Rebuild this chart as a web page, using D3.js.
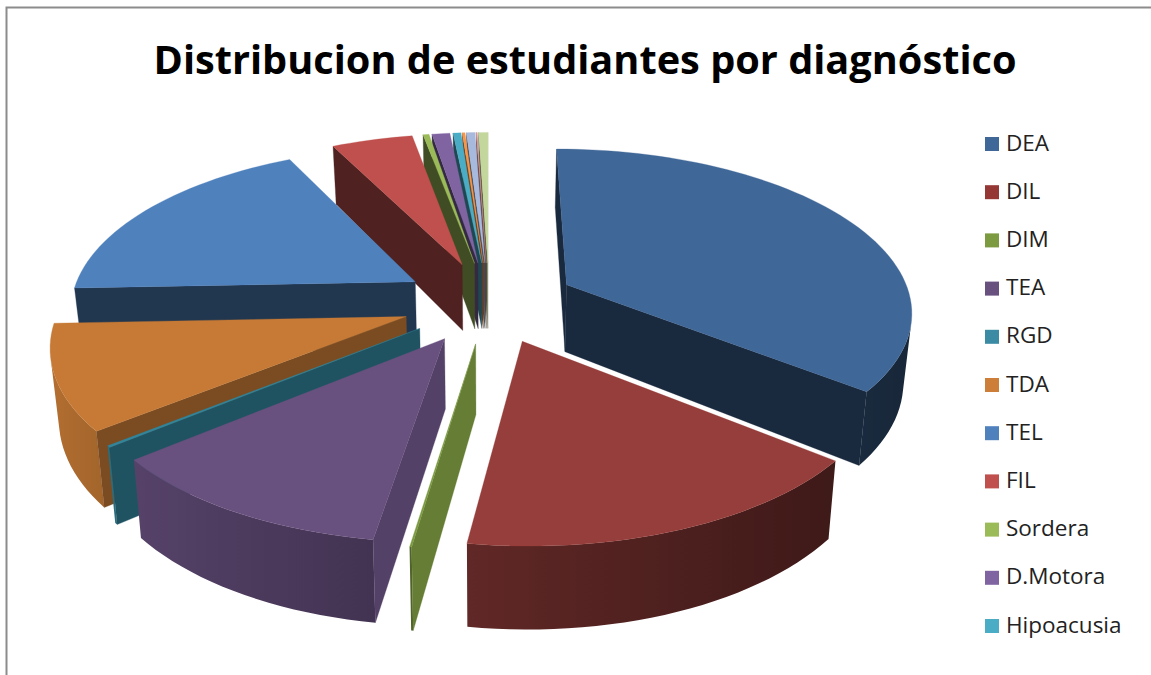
<!DOCTYPE html>
<html><head><meta charset="utf-8">
<script src="https://cdn.jsdelivr.net/npm/d3@7"></script>
<style>html,body{margin:0;background:#fff}svg{display:block}</style></head>
<body><svg id="c" width="1151" height="675"></svg>
<script>
const titleText="Distribucion de estudiantes por diagnóstico";
const categories=["DEA","DIL","DIM","TEA","RGD","TDA","TEL","FIL","Sordera","D.Motora","Hipoacusia","Otro 12","Otro 13","Otro 14","Otro 15"];
const values=[35.73,16.59,0.08,11.64,0.16,10.17,18.23,4.47,0.33,0.98,0.43,0.15,0.47,0.06,0.51];
const legendItems=categories.slice(0,11);
const colors=["#3f6797","#963e3b","#7c9a40","#68507f","#31859c","#c67a35","#4f81bd","#c0504d","#9bbb59","#8064a2","#4bacc6","#f79646","#a7b9dc","#d99694","#c3d69b"];
const legendColors=["#3f6797","#953735","#7c9a40","#68507f","#3a8ba3","#cd7f3a","#4f81bd","#c0504d","#9bbb59","#8064a2","#4bacc6"];

const view={cx:489.1,cy:302.1,Rx:345.2,Ry:160.9,persp:.15,explode:.253,depth:68,converge:.98};
const scaleX=d3.scaleLinear().domain([-1,1]).range([-view.Rx,view.Rx]);
const scaleY=d3.scaleLinear().domain([-1,1]).range([view.Ry,-view.Ry]);
const wallShade=d3.scaleLinear().domain([90,150,180,270]).range([.85,.58,.41,.41]).clamp(true);
const outerShade=a=>.65+.27*Math.cos(a-280*Math.PI/180);
function project(th,r,mid,low){
  const U=view.explode*Math.sin(mid)+r*Math.sin(th),V=view.explode*Math.cos(mid)+r*Math.cos(th),s=1/(1+view.persp*V);
  return [view.cx+scaleX(U)*s*(low?view.converge:1),view.cy+scaleY(V)*s+(low?view.depth*s:0)];
}
const shade=(c,k)=>{const q=d3.rgb(c);return d3.rgb(q.r*k,q.g*k,q.b*k).formatHex();};
const closed=a=>d3.line()(a)+"Z";
const deg=a=>((a*180/Math.PI)%360+360)%360;

const svg=d3.select("#c");
const defs=svg.append("defs");
svg.append("path").attr("d","M6.5,675V7.5H1151").attr("fill","none").attr("stroke","#8c8c8c").attr("stroke-width",2);
svg.append("text").attr("x",585).attr("y",73.5).attr("text-anchor","middle").attr("font-family","Open Sans").attr("font-weight",700).attr("font-size",39.7).attr("fill","#000").text(titleText);

const arcs=d3.pie().sort(null).startAngle(0).endAngle(2*Math.PI)(values)
  .map((d,i)=>({i,a0:d.startAngle,a1:d.endAngle,mid:(d.startAngle+d.endAngle)/2}))
  .sort((p,q)=>Math.cos(q.mid)-Math.cos(p.mid));
const g=svg.append("g");
arcs.forEach(d=>{
  const c=colors[d.i],n=Math.max(2,Math.ceil((d.a1-d.a0)/(2*Math.PI/180)));
  const t=d3.range(n+1).map(k=>d.a0+(d.a1-d.a0)*k/n);
  const apexT=project(0,0,d.mid,false),apexB=project(0,0,d.mid,true);
  // outer rim: only the segments that face the viewer
  const vis=d3.range(n).filter(k=>d3.polygonArea([project(t[k],1,d.mid,false),project(t[k+1],1,d.mid,false),project(t[k+1],1,d.mid,true),project(t[k],1,d.mid,true)])>0);
  if(vis.length){
    const ts=[t[vis[0]]].concat(vis.map(k=>t[k+1]));
    const tops=ts.map(a=>project(a,1,d.mid,false)),lows=ts.map(a=>project(a,1,d.mid,true));
    const xa=lows[0][0],xb=lows[lows.length-1][0],id="rim"+d.i;
    const lg=defs.append("linearGradient").attr("id",id).attr("gradientUnits","userSpaceOnUse").attr("x1",xa).attr("x2",xb===xa?xa+1:xb).attr("y1",0).attr("y2",0);
    ts.forEach((a,k)=>lg.append("stop").attr("offset",ts.length>1?(lows[k][0]-xa)/((xb-xa)||1):0).attr("stop-color",shade(c,outerShade(a))));
    g.append("path").attr("d",closed(tops.concat(lows.slice().reverse()))).attr("fill",`url(#${id})`);
  }
  // cut faces: culled when they face away
  const startQ=[apexT,project(d.a0,1,d.mid,false),project(d.a0,1,d.mid,true),apexB];
  const endQ=[apexT,project(d.a1,1,d.mid,false),project(d.a1,1,d.mid,true),apexB];
  if(d3.polygonArea(startQ)>0){
    const col=shade(c,wallShade(deg(d.a0-Math.PI/2)));
    g.append("path").attr("d",closed(startQ)).attr("fill",col).attr("stroke",col).attr("stroke-width",.3);
  }
  if(d3.polygonArea(endQ)<0){
    const col=shade(c,wallShade(deg(d.a1+Math.PI/2)));
    g.append("path").attr("d",closed(endQ)).attr("fill",col).attr("stroke",col).attr("stroke-width",.3);
  }
  g.append("path").attr("d",closed([apexT].concat(t.map(a=>project(a,1,d.mid,false))))).attr("fill",c).attr("stroke",c).attr("stroke-width",.3);
});

const legendY=d3.scalePoint().domain(legendItems).range([144,626]);
const lg=svg.selectAll("g.lg").data(legendItems).join("g").attr("class","lg").attr("transform",d=>`translate(0,${legendY(d)})`);
lg.append("rect").attr("x",985).attr("y",-7).attr("width",14).attr("height",14).attr("fill",(d,i)=>legendColors[i]);
lg.append("text").attr("x",1006).attr("y",6.5).attr("font-family","Open Sans").attr("font-size",22.5).attr("fill","#222").text(d=>d);
</script></body></html>
